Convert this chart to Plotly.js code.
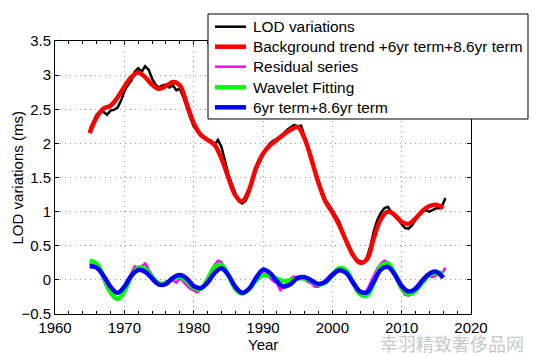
<!DOCTYPE html>
<html>
<head>
<meta charset="utf-8">
<script src="https://cdn.plot.ly/plotly-3.0.1.min.js"></script>
<style>html,body{margin:0;padding:0;background:#fff;}#chart{width:542px;height:356px;}</style>
</head>
<body>
<div id="chart"></div>
<script>
// Series names
var seriesNames = ['LOD variations', 'Background trend +6yr term+8.6yr term', 'Residual series', 'Wavelet Fitting', '6yr term+8.6yr term'];

// Yearly grid for smooth curves
var yearsSmooth = [1965,1966,1967,1968,1969,1970,1971,1972,1973,1974,1975,1976,1977,1978,1979,1980,1981,1982,1983,1984,1985,1986,1987,1988,1989,1990,1991,1992,1993,1994,1995,1996,1997,1998,1999,2000,2001,2002,2003,2004,2005,2006,2007,2008,2009,2010,2011,2012,2013,2014,2015,2016];

// Background trend + 6yr term + 8.6yr term (red)
var trendValues = [2.15,2.38,2.51,2.55,2.67,2.83,2.97,3.04,2.97,2.86,2.80,2.84,2.90,2.85,2.58,2.30,2.13,2.05,1.98,1.78,1.50,1.24,1.15,1.32,1.64,1.85,1.97,2.05,2.13,2.20,2.24,2.07,1.76,1.42,1.15,0.99,0.80,0.57,0.36,0.25,0.30,0.62,0.89,1.00,0.95,0.85,0.82,0.90,1.01,1.08,1.10,1.05];

// Wavelet fitting (green)
var waveletValues = [0.28,0.24,0.05,-0.18,-0.28,-0.17,0.05,0.18,0.16,0.04,-0.05,-0.05,0.02,0.05,-0.02,-0.12,-0.13,0.00,0.19,0.22,0.07,-0.13,-0.20,-0.13,-0.01,0.07,0.06,0.02,-0.02,0.00,0.02,0.02,-0.02,-0.07,-0.04,0.07,0.17,0.14,-0.04,-0.21,-0.23,-0.04,0.20,0.24,0.09,-0.12,-0.21,-0.16,-0.04,0.07,0.10,0.10];

// 6yr term + 8.6yr term (blue)
var termValues = [0.20,0.18,0.06,-0.10,-0.19,-0.10,0.06,0.145,0.12,0.02,-0.07,-0.06,0.03,0.07,0.02,-0.09,-0.12,-0.04,0.10,0.17,0.07,-0.10,-0.19,-0.13,0.03,0.15,0.10,-0.02,-0.10,-0.06,0.03,0.04,-0.01,-0.06,-0.03,0.07,0.14,0.10,-0.04,-0.17,-0.18,-0.02,0.15,0.19,0.08,-0.09,-0.17,-0.13,-0.01,0.09,0.12,0.03];

// Half-year grid for noisy series
var yearsHalf = [1965.0,1965.5,1966.0,1966.5,1967.0,1967.5,1968.0,1968.5,1969.0,1969.5,1970.0,1970.5,1971.0,1971.5,1972.0,1972.5,1973.0,1973.5,1974.0,1974.5,1975.0,1975.5,1976.0,1976.5,1977.0,1977.5,1978.0,1978.5,1979.0,1979.5,1980.0,1980.5,1981.0,1981.5,1982.0,1982.5,1983.0,1983.5,1984.0,1984.5,1985.0,1985.5,1986.0,1986.5,1987.0,1987.5,1988.0,1988.5,1989.0,1989.5,1990.0,1990.5,1991.0,1991.5,1992.0,1992.5,1993.0,1993.5,1994.0,1994.5,1995.0,1995.5,1996.0,1996.5,1997.0,1997.5,1998.0,1998.5,1999.0,1999.5,2000.0,2000.5,2001.0,2001.5,2002.0,2002.5,2003.0,2003.5,2004.0,2004.5,2005.0,2005.5,2006.0,2006.5,2007.0,2007.5,2008.0,2008.5,2009.0,2009.5,2010.0,2010.5,2011.0,2011.5,2012.0,2012.5,2013.0,2013.5,2014.0,2014.5,2015.0,2015.5,2016.0,2016.3];

// LOD variations (black)
var lodValues = [2.20,2.30,2.42,2.47,2.46,2.42,2.48,2.49,2.52,2.62,2.76,2.85,2.92,3.05,3.10,3.05,3.13,3.08,2.95,2.86,2.82,2.85,2.86,2.82,2.85,2.78,2.80,2.68,2.52,2.38,2.25,2.17,2.11,2.08,2.06,2.04,1.98,2.05,1.95,1.75,1.55,1.40,1.27,1.15,1.12,1.16,1.28,1.45,1.62,1.72,1.82,1.93,2.00,2.04,2.06,2.10,2.15,2.20,2.23,2.27,2.25,2.26,2.10,1.95,1.78,1.60,1.45,1.30,1.17,1.10,1.02,0.93,0.85,0.70,0.58,0.45,0.35,0.30,0.27,0.25,0.33,0.50,0.72,0.88,0.98,1.05,1.07,1.00,0.93,0.88,0.82,0.76,0.75,0.80,0.88,0.95,1.00,1.02,1.00,1.03,1.05,1.05,1.12,1.20];

// Residual series (magenta)
var residualValues = [0.22,0.25,0.20,0.12,0.00,-0.12,-0.20,-0.27,-0.29,-0.25,-0.15,-0.02,0.10,0.20,0.17,0.20,0.24,0.15,0.07,0.00,-0.04,-0.06,-0.02,-0.03,0.00,-0.04,0.03,-0.03,-0.08,-0.13,-0.16,-0.18,-0.14,-0.08,0.03,0.12,0.22,0.28,0.26,0.17,0.05,-0.05,-0.15,-0.20,-0.20,-0.18,-0.15,-0.06,0.00,0.05,0.10,0.07,0.03,-0.02,-0.05,-0.15,-0.10,-0.03,0.02,0.05,0.02,0.04,0.00,-0.03,-0.05,-0.10,-0.10,-0.05,0.00,0.06,0.10,0.14,0.16,0.18,0.12,0.03,-0.08,-0.17,-0.21,-0.22,-0.15,-0.05,0.05,0.17,0.24,0.28,0.26,0.17,0.05,-0.05,-0.15,-0.22,-0.23,-0.17,-0.10,-0.05,0.02,0.06,0.05,0.04,0.07,0.08,0.12,0.18];

var xTicks = [1960,1970,1980,1990,2000,2010,2020];
var yTicks = [-0.5,0,0.5,1,1.5,2,2.5,3,3.5];

var traces = [
  {x: yearsHalf, y: lodValues, name: seriesNames[0], type: 'scatter', mode: 'lines', line: {color: '#000000', width: 2.5}},
  {x: yearsSmooth, y: trendValues, name: seriesNames[1], type: 'scatter', mode: 'lines', line: {color: '#ff0000', width: 4.5, shape: 'spline', smoothing: 1}},
  {x: yearsHalf, y: residualValues, name: seriesNames[2], type: 'scatter', mode: 'lines', line: {color: '#ff00ff', width: 2.5}},
  {x: yearsSmooth, y: waveletValues, name: seriesNames[3], type: 'scatter', mode: 'lines', line: {color: '#00ff00', width: 4.5, shape: 'spline', smoothing: 1}},
  {x: yearsSmooth, y: termValues, name: seriesNames[4], type: 'scatter', mode: 'lines', line: {color: '#0000ff', width: 4.5, shape: 'spline', smoothing: 1}}
];

var font = 'Liberation Sans, Arial, Helvetica, sans-serif';

// Legend box (MATLAB style) built from the traces, in paper coordinates
var legBox = {x0: 0.3678, x1: 1.1370, y0: 0.7143, y1: 1.0989};
var legLineX = [0.3846, 0.4591];
var legTextX = 0.4736;
var legRowY = [1.0524, 0.9791, 0.9059, 0.8304, 0.7571];

var shapes = [{type: 'rect', xref: 'paper', yref: 'paper', x0: legBox.x0, x1: legBox.x1, y0: legBox.y0, y1: legBox.y1,
  line: {color: '#000', width: 1}, fillcolor: '#ffffff', layer: 'above'}];
var annotations = [
  {text: 'Year', xref: 'paper', yref: 'paper', x: 0.5, y: -0.11, xanchor: 'center', yanchor: 'middle', showarrow: false,
   font: {family: font, size: 15, color: '#000'}},
  {text: 'LOD variations (ms)', xref: 'paper', yref: 'paper', x: -0.089, y: 0.5, xanchor: 'center', yanchor: 'middle', textangle: -90, showarrow: false,
   font: {family: font, size: 15, color: '#000'}},
  {text: '幸羽精致奢侈品网', xref: 'paper', yref: 'paper', x: 1.13, y: -0.1062, xanchor: 'right', yanchor: 'middle', showarrow: false, borderpad: 0,
   font: {family: 'Noto Sans CJK SC, sans-serif', size: 18, color: '#c8c8c8'}}
];
traces.forEach(function (t, i) {
  shapes.push({type: 'line', xref: 'paper', yref: 'paper', x0: legLineX[0], x1: legLineX[1], y0: legRowY[i], y1: legRowY[i],
    line: {color: t.line.color, width: t.line.width}, layer: 'above'});
  annotations.push({text: t.name, xref: 'paper', yref: 'paper', x: legTextX, y: legRowY[i], xanchor: 'left', yanchor: 'middle',
    showarrow: false, borderpad: 0, font: {family: font, size: 15.4, color: '#000'}});
});

var layout = {
  width: 542, height: 356,
  margin: {l: 55, r: 71, t: 41, b: 42, pad: 0},
  paper_bgcolor: '#ffffff', plot_bgcolor: '#ffffff',
  font: {family: font, size: 15, color: '#000'},
  showlegend: false,
  xaxis: {
    range: [1960, 2020], tickvals: xTicks, ticktext: xTicks.map(String),
    ticks: 'inside', ticklen: 4, tickcolor: '#000', tickwidth: 1,
    showline: true, linecolor: '#000', linewidth: 1, mirror: 'ticks',
    showgrid: true, gridcolor: '#9a9a9a', griddash: '1px,4px', gridwidth: 1,
    zeroline: false,
    minor: {dtick: 2, ticks: 'inside', ticklen: 3, tickcolor: '#000', showgrid: false},
    tickfont: {size: 15}
  },
  yaxis: {
    range: [-0.5, 3.5], tickvals: yTicks,
    ticks: 'inside', ticklen: 4, tickcolor: '#000', tickwidth: 1,
    showline: true, linecolor: '#000', linewidth: 1, mirror: 'ticks',
    showgrid: true, gridcolor: '#9a9a9a', griddash: '1px,4px', gridwidth: 1,
    zeroline: false,
    tickfont: {size: 15}
  },
  shapes: shapes,
  annotations: annotations
};

Plotly.newPlot('chart', traces, layout, {displayModeBar: false, staticPlot: true});
</script>
</body>
</html>
